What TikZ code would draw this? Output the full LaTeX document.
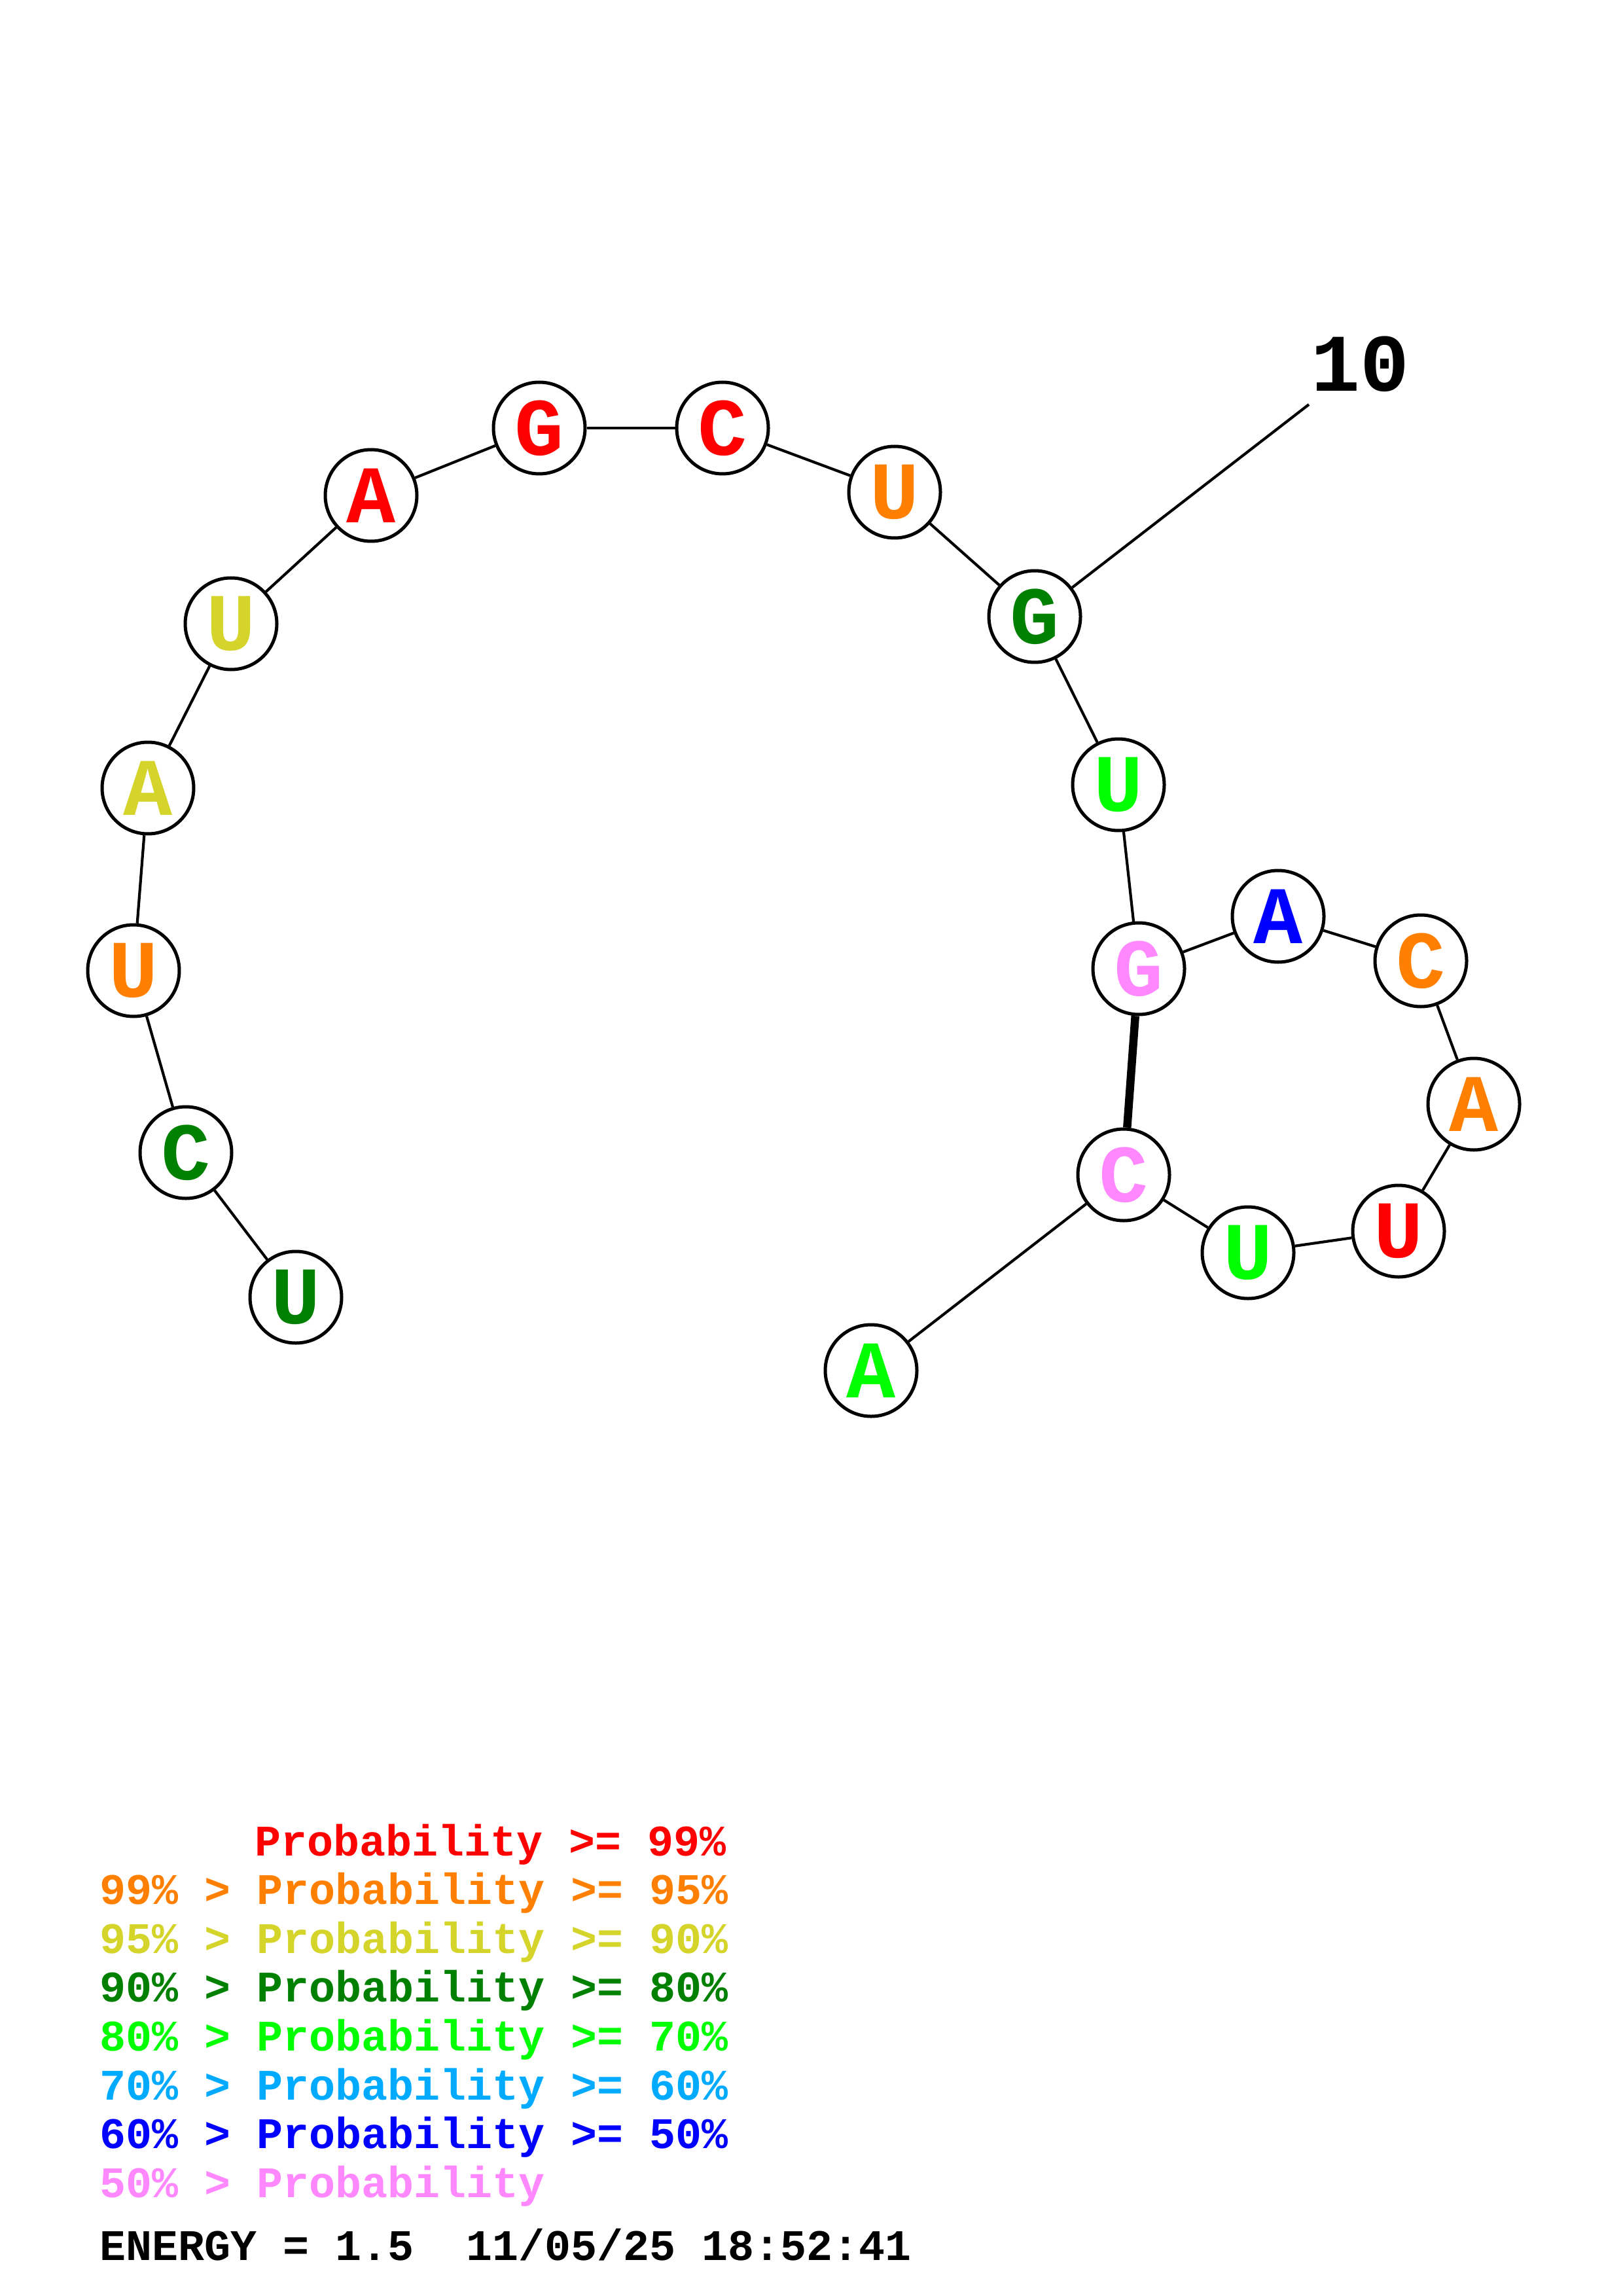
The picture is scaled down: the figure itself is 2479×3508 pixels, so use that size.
\documentclass[tikz,border=0pt]{standalone}
\usepackage{fontspec}
\newfontfamily\mono{Liberation Mono}
\definecolor{cRed}{RGB}{255,0,0}
\definecolor{cOrange}{RGB}{255,128,0}
\definecolor{cYellow}{RGB}{212,212,42}
\definecolor{cDGreen}{RGB}{0,128,0}
\definecolor{cGreen}{RGB}{0,255,0}
\definecolor{cLBlue}{RGB}{0,170,255}
\definecolor{cBlue}{RGB}{0,0,255}
\definecolor{cPink}{RGB}{255,136,255}
\newcommand{\bletter}[1]{\raisebox{-1.8pt}{#1}}
\tikzset{
  base/.style={circle,draw=black,line width=1.2pt,fill=white,minimum size=33.6pt,inner sep=0pt,
    font=\mono\bfseries\fontsize{30}{30}\selectfont,text=#1},
  bb/.style={line width=1.0pt,black},
  pairline/.style={line width=3pt,black},
  legend/.style={anchor=base west,inner sep=0pt,font=\mono\bfseries\fontsize{16}{16}\selectfont,text=#1}
}
\begin{document}
\begin{tikzpicture}[x=0.24pt,y=-0.24pt]
\useasboundingbox (0,0) rectangle (2479,3508);
% nodes
\node[base=cDGreen] (n1) at (452,1982) {\bletter{U}};
\node[base=cDGreen] (n2) at (284,1761) {\bletter{C}};
\node[base=cOrange] (n3) at (204,1483) {\bletter{U}};
\node[base=cYellow] (n4) at (226,1204) {\bletter{A}};
\node[base=cYellow] (n5) at (353,953) {\bletter{U}};
\node[base=cRed] (n6) at (567,757) {\bletter{A}};
\node[base=cRed] (n7) at (824,654) {\bletter{G}};
\node[base=cRed] (n8) at (1104,654) {\bletter{C}};
\node[base=cOrange] (n9) at (1367,752) {\bletter{U}};
\node[base=cDGreen] (n10) at (1581,942) {\bletter{G}};
\node[base=cGreen] (n11) at (1709,1199) {\bletter{U}};
\node[base=cPink] (n12) at (1740,1480) {\bletter{G}};
\node[base=cBlue] (n13) at (1953,1400) {\bletter{A}};
\node[base=cOrange] (n14) at (2171,1468) {\bletter{C}};
\node[base=cOrange] (n15) at (2252,1687) {\bletter{A}};
\node[base=cRed] (n16) at (2137,1881) {\bletter{U}};
\node[base=cGreen] (n17) at (1907,1914) {\bletter{U}};
\node[base=cPink] (n18) at (1717,1795) {\bletter{C}};
\node[base=cGreen] (n19) at (1331,2094) {\bletter{A}};
\coordinate (t10) at (2000,618);
\node[anchor=base west,inner sep=0pt,font=\mono\bfseries\fontsize{30}{30}\selectfont] (lab10) at (2003,598) {10};
% backbone
\draw[bb] (n1) -- (n2);
\draw[bb] (n2) -- (n3);
\draw[bb] (n3) -- (n4);
\draw[bb] (n4) -- (n5);
\draw[bb] (n5) -- (n6);
\draw[bb] (n6) -- (n7);
\draw[bb] (n7) -- (n8);
\draw[bb] (n8) -- (n9);
\draw[bb] (n9) -- (n10);
\draw[bb] (n10) -- (n11);
\draw[bb] (n11) -- (n12);
\draw[bb] (n12) -- (n13);
\draw[bb] (n13) -- (n14);
\draw[bb] (n14) -- (n15);
\draw[bb] (n15) -- (n16);
\draw[bb] (n16) -- (n17);
\draw[bb] (n17) -- (n18);
\draw[bb] (n18) -- (n19);
\draw[bb] (n10) -- (t10);
\draw[pairline] (n12) -- (n18);
% legend
\node[legend=cRed] (l1) at (389,2835) {Probability >= 99\%};
\node[legend=cOrange] (l2) at (152,2909) {99\% > Probability >= 95\%};
\node[legend=cYellow] (l3) at (152,2984) {95\% > Probability >= 90\%};
\node[legend=cDGreen] (l4) at (152,3058) {90\% > Probability >= 80\%};
\node[legend=cGreen] (l5) at (152,3133) {80\% > Probability >= 70\%};
\node[legend=cLBlue] (l6) at (152,3208) {70\% > Probability >= 60\%};
\node[legend=cBlue] (l7) at (152,3282) {60\% > Probability >= 50\%};
\node[legend=cPink] (l8) at (152,3357) {50\% > Probability};
\node[legend=black] (en) at (152,3453) {ENERGY = 1.5\ \ 11/05/25 18:52:41};
\end{tikzpicture}
\end{document}
